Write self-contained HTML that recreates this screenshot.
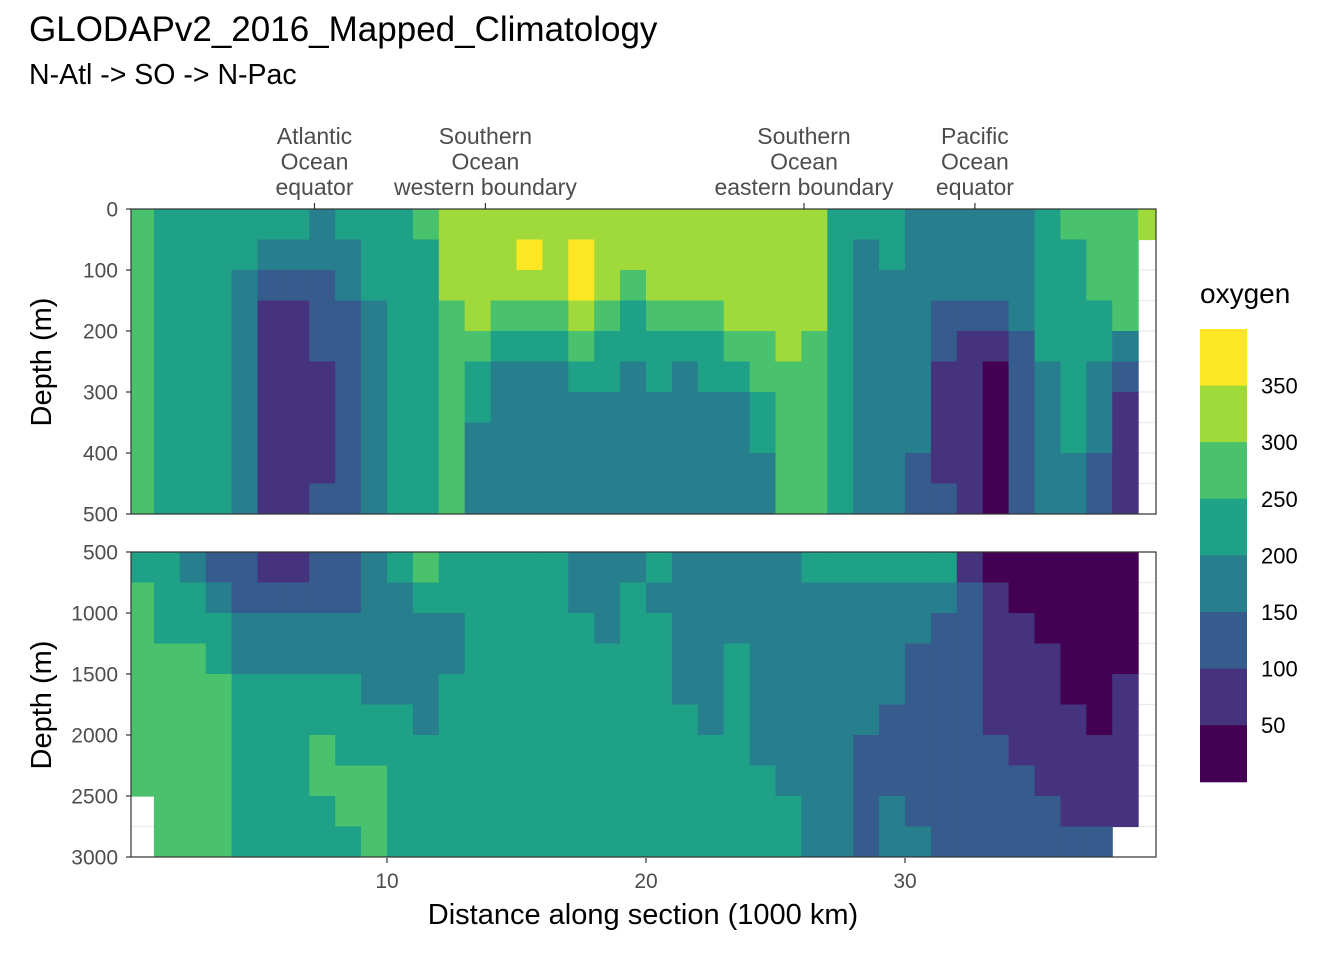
<!DOCTYPE html>
<html><head><meta charset="utf-8"><style>
body{margin:0;background:#fff;font-family:"Liberation Sans",sans-serif;}
svg text{font-family:"Liberation Sans",sans-serif;}
</style></head><body>
<svg id="chart" width="1344" height="960" xmlns="http://www.w3.org/2000/svg">
<text x="29" y="41" font-size="35" fill="#000">GLODAPv2_2016_Mapped_Climatology</text>
<text x="29" y="84" font-size="28.5" fill="#000">N-Atl -&gt; SO -&gt; N-Pac</text>
<g id="top"></g>
<g id="bot"></g>
<g id="axes"></g>
<g id="legend"></g>
</svg>
<script>
// distances: column centers (1000 km)
const distances = [0.5,1.5,2.5,3.5,4.5,5.5,6.5,7.5,8.5,9.5,10.5,11.5,12.5,13.5,14.5,15.5,16.5,17.5,18.5,19.5,20.5,21.5,22.5,23.5,24.5,25.5,26.5,27.5,28.5,29.5,30.5,31.5,32.5,33.5,34.5,35.5,36.5,37.5,38.5,39.5];
const topDepths = [25,75,125,175,225,275,325,375,425,475];
const botDepths = [625,875,1125,1375,1625,1875,2125,2375,2625,2875];
// oxygen (umol/kg), rows = depth, cols = distance
const topOxygen = [
[275,225,225,225,225,225,225,175,225,225,225,275,325,325,325,325,325,325,325,325,325,325,325,325,325,325,325,225,225,225,175,175,175,175,175,225,275,275,275,325],
[275,225,225,225,225,175,175,175,175,225,225,225,325,325,325,375,325,375,325,325,325,325,325,325,325,325,325,225,175,225,175,175,175,175,175,225,225,275,275,null],
[275,225,225,225,175,125,125,125,175,225,225,225,325,325,325,325,325,375,325,275,325,325,325,325,325,325,325,225,175,175,175,175,175,175,175,225,225,275,275,null],
[275,225,225,225,175,75,75,125,125,175,225,225,275,325,275,275,275,325,275,225,275,275,275,325,325,325,325,225,175,175,175,125,125,125,175,225,225,225,275,null],
[275,225,225,225,175,75,75,125,125,175,225,225,275,275,225,225,225,275,225,225,225,225,225,275,275,325,275,225,175,175,175,125,75,75,125,225,225,225,175,null],
[275,225,225,225,175,75,75,75,125,175,225,225,275,225,175,175,175,225,225,175,225,175,225,225,275,275,275,225,175,175,175,75,75,25,125,175,225,175,125,null],
[275,225,225,225,175,75,75,75,125,175,225,225,275,225,175,175,175,175,175,175,175,175,175,175,225,275,275,225,175,175,175,75,75,25,125,175,225,175,75,null],
[275,225,225,225,175,75,75,75,125,175,225,225,275,175,175,175,175,175,175,175,175,175,175,175,225,275,275,225,175,175,175,75,75,25,125,175,225,175,75,null],
[275,225,225,225,175,75,75,75,125,175,225,225,275,175,175,175,175,175,175,175,175,175,175,175,175,275,275,225,175,175,125,75,75,25,125,175,175,125,75,null],
[275,225,225,225,175,75,75,125,125,175,225,225,275,175,175,175,175,175,175,175,175,175,175,175,175,275,275,225,175,175,125,125,75,25,125,175,175,125,75,null]
];
const botOxygen = [
[225,225,175,125,125,75,75,125,125,175,225,275,225,225,225,225,225,175,175,175,225,175,175,175,175,175,225,225,225,225,225,225,75,25,25,25,25,25,25,null],
[275,225,225,175,125,125,125,125,125,175,175,225,225,225,225,225,225,175,175,225,175,175,175,175,175,175,175,175,175,175,175,175,125,75,25,25,25,25,25,null],
[275,225,225,225,175,175,175,175,175,175,175,175,175,225,225,225,225,225,175,225,225,175,175,175,175,175,175,175,175,175,175,125,125,75,75,25,25,25,25,null],
[275,275,275,225,175,175,175,175,175,175,175,175,175,225,225,225,225,225,225,225,225,175,175,225,175,175,175,175,175,175,125,125,125,75,75,75,25,25,25,null],
[275,275,275,275,225,225,225,225,225,175,175,175,225,225,225,225,225,225,225,225,225,175,175,225,175,175,175,175,175,175,125,125,125,75,75,75,25,25,75,null],
[275,275,275,275,225,225,225,225,225,225,225,175,225,225,225,225,225,225,225,225,225,225,175,225,175,175,175,175,175,125,125,125,125,75,75,75,75,25,75,null],
[275,275,275,275,225,225,225,275,225,225,225,225,225,225,225,225,225,225,225,225,225,225,225,225,175,175,175,175,125,125,125,125,125,125,75,75,75,75,75,null],
[275,275,275,275,225,225,225,275,275,275,225,225,225,225,225,225,225,225,225,225,225,225,225,225,225,175,175,175,125,125,125,125,125,125,125,75,75,75,75,null],
[null,275,275,275,225,225,225,225,275,275,225,225,225,225,225,225,225,225,225,225,225,225,225,225,225,225,175,175,125,175,125,125,125,125,125,125,75,75,75,null],
[null,275,275,275,225,225,225,225,225,275,225,225,225,225,225,225,225,225,225,225,225,225,225,225,225,225,175,175,125,175,175,125,125,125,125,125,125,125,null,null]
];
const breaks = [0,50,100,150,200,250,300,350,400];
const colors = ['#440154','#46337E','#365C8D','#277F8E','#1FA187','#4AC16D','#9FDA3A','#FDE725'];
const legendLabels = ['50','100','150','200','250','300','350'];
const xTicks = [10,20,30];
const topTicks = [0,100,200,300,400,500];
const botTicks = [500,1000,1500,2000,2500,3000];
const regionLabels = [{x:7.2,t:['Atlantic','Ocean','equator']},{x:13.8,t:['Southern','Ocean','western boundary']},{x:26.1,t:['Southern','Ocean','eastern boundary']},{x:32.7,t:['Pacific','Ocean','equator']}];

const NS='http://www.w3.org/2000/svg';
const PL=131, PR=1156;
const xs = d => 128 + d*25.9;
const yTop = d => 209 + d*0.61;
const yBot = d => 552 + (d-500)*0.122;
function mk(tag, attrs, parent){const e=document.createElementNS(NS,tag);for(const k in attrs)e.setAttribute(k,attrs[k]);parent.appendChild(e);return e;}
function colorOf(v){for(let i=0;i<colors.length;i++){if(v<breaks[i+1])return colors[i];}return colors[colors.length-1];}

function panel(g, depths, grid, ys, d0, d1, minor, major){
  const top=ys(d0), bot=ys(d1);
  mk('rect',{x:PL,y:top,width:PR-PL,height:bot-top,fill:'#fff'},g);
  for(const m of minor){const y=ys(m);const l=mk('line',{x1:PL,x2:PR,y1:y,y2:y,stroke:'#ebebeb','stroke-width':1.2},g);

}
  const clip=mk('clipPath',{id:'c'+d0},g);mk('rect',{x:PL,y:top,width:PR-PL,height:bot-top},clip);
  const cg=mk('g',{'clip-path':'url(#c'+d0+')'},g);
  const dd = depths[1]-depths[0];
  for(let r=0;r<depths.length;r++){for(let c=0;c<distances.length;c++){
    const v=grid[r][c]; if(v===null)continue;
    const x0=xs(distances[c]-0.5), x1=xs(distances[c]+0.5);
    const y0=ys(depths[r]-dd/2), y1=ys(depths[r]+dd/2);
    const cell=mk('rect',{x:x0,y:y0,width:x1-x0+0.6,height:y1-y0+0.6,fill:colorOf(v)},cg);
    
    
  }}
  mk('rect',{x:PL,y:top,width:PR-PL,height:bot-top,fill:'none',stroke:'#333','stroke-width':1.2},g);
  for(const t of major){const y=ys(t);
    mk('line',{x1:PL-5,x2:PL,y1:y,y2:y,stroke:'#333','stroke-width':1.2},g);
    const tx=mk('text',{x:PL-13,y:y+7.5,'font-size':21,fill:'#4d4d4d','text-anchor':'end'},g);tx.textContent=t;
    
    }
}
const topMinor=[0,50,100,150,200,250,300,350,400,450,500];
const botMinor=[500,750,1000,1250,1500,1750,2000,2250,2500,2750,3000];
panel(document.getElementById('top'),topDepths,topOxygen,yTop,0,500,topMinor,topTicks);
panel(document.getElementById('bot'),botDepths,botOxygen,yBot,500,3000,botMinor,botTicks);

const ax=document.getElementById('axes');
for(const t of xTicks){const x=xs(t);
  mk('line',{x1:x,x2:x,y1:858,y2:863,stroke:'#333','stroke-width':1.2},ax);
  const tx=mk('text',{x:x,y:888,'font-size':21,fill:'#4d4d4d','text-anchor':'middle'},ax);tx.textContent=t;
  
  }
for(const r of regionLabels){const x=xs(r.x);
  mk('line',{x1:x,x2:x,y1:203,y2:209,stroke:'#333','stroke-width':1.2},ax);
  r.t.forEach((s,i)=>{const tx=mk('text',{x:x,y:144+i*25.5,'font-size':23,fill:'#4d4d4d','text-anchor':'middle'},ax);tx.textContent=s;
  
  });}
let t=mk('text',{x:643,y:924,'font-size':29,fill:'#000','text-anchor':'middle'},ax);t.textContent='Distance along section (1000 km)';


t=mk('text',{x:51,y:362,'font-size':29,fill:'#000','text-anchor':'middle',transform:'rotate(-90 51 362)'},ax);t.textContent='Depth (m)';


t=mk('text',{x:51,y:705,'font-size':29,fill:'#000','text-anchor':'middle',transform:'rotate(-90 51 705)'},ax);t.textContent='Depth (m)';



const lg=document.getElementById('legend');
t=mk('text',{x:1200,y:303,'font-size':28,fill:'#000'},lg);t.textContent='oxygen';


const LT=329, LH=56.6;
for(let i=0;i<colors.length;i++){
  const k=colors.length-1-i;
  const r=mk('rect',{x:1200,y:LT+i*LH,width:47,height:LH+0.5,fill:colors[k]},lg);
  
  
}
legendLabels.forEach((s,i)=>{const y=LT+LH*(7-i);
  const tx=mk('text',{x:1261,y:y+8,'font-size':22,fill:'#000'},lg);tx.textContent=s;
  
  });
</script>
</body></html>
